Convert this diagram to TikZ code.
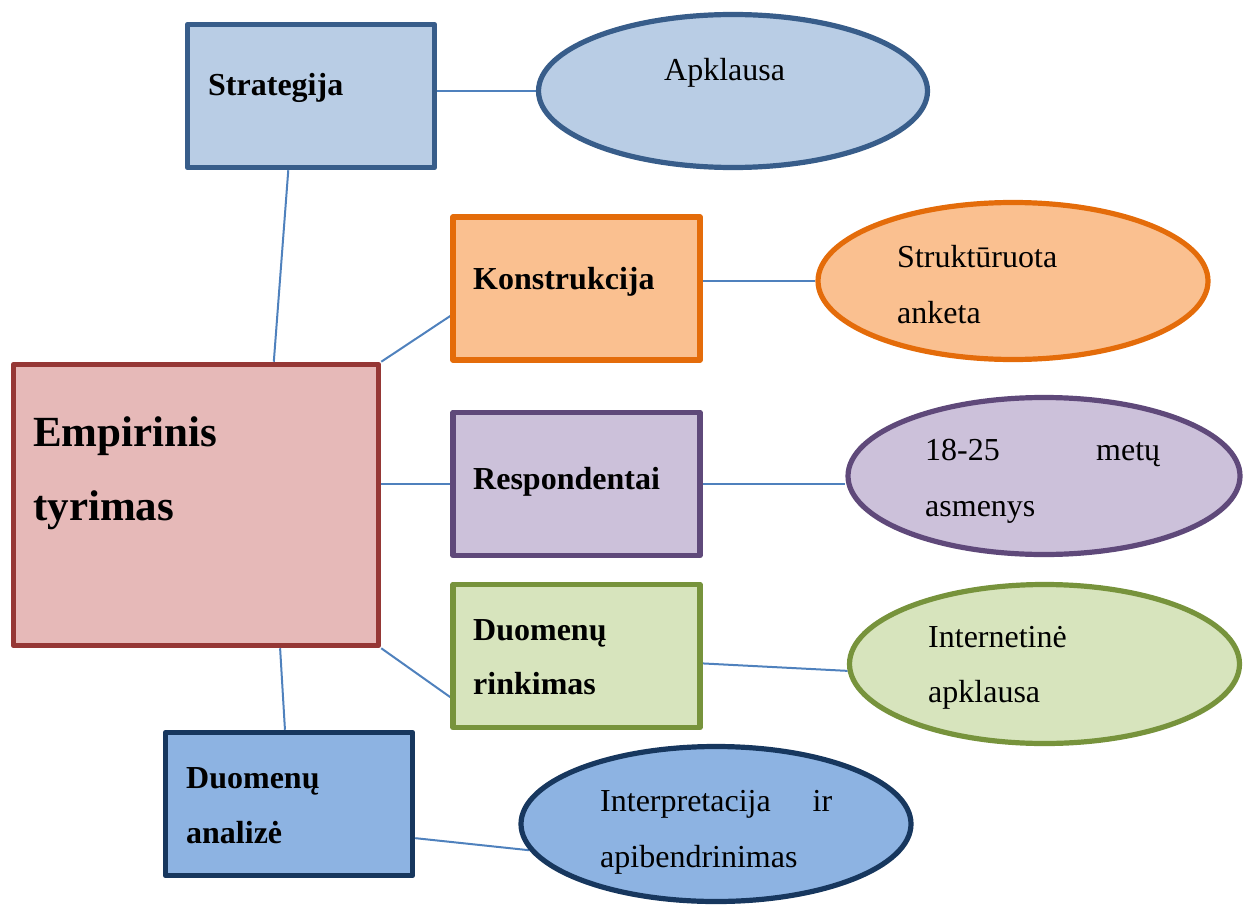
\documentclass[tikz,border=0pt]{standalone}
\usepackage{fontspec}
\setmainfont{Liberation Serif}
\usetikzlibrary{shapes.geometric,calc,backgrounds}
\definecolor{connc}{HTML}{4F81BD}
\definecolor{stratF}{HTML}{B9CDE5}\definecolor{stratD}{HTML}{385D8A}
\definecolor{konF}{HTML}{FAC090}\definecolor{konD}{HTML}{E46C0A}
\definecolor{resF}{HTML}{CCC1DA}\definecolor{resD}{HTML}{5F497A}
\definecolor{rinF}{HTML}{D7E4BD}\definecolor{rinD}{HTML}{77933C}
\definecolor{anaF}{HTML}{8DB3E2}\definecolor{anaD}{HTML}{17375E}
\definecolor{empF}{HTML}{E6B9B8}\definecolor{empD}{HTML}{953735}
\begin{document}
\begin{tikzpicture}[x=1pt,y=-1pt,
  box/.style={rectangle,draw,line width=5.5pt,line join=round,inner sep=0pt,minimum width=247pt,minimum height=143pt},
  oval/.style={ellipse,draw,line width=5.2pt,inner sep=0pt,minimum width=390pt,minimum height=155pt},
  lbl/.style={anchor=base west,inner sep=0pt,font=\fontsize{32}{38}\selectfont},
  blbl/.style={lbl,font=\fontsize{32}{38}\selectfont\bfseries},
  conn/.style={draw=connc,line width=2pt}]
\useasboundingbox (0,0) rectangle (1246,904);
% boxes
\node[box,fill=empF,draw=empD,minimum width=365pt,minimum height=281pt] (emp) at (196,505) {};
\node[box,fill=stratF,draw=stratD] (strat) at (311,96) {};
\node[box,fill=konF,draw=konD] (kon) at (576.5,288.5) {};
\node[box,fill=resF,draw=resD] (res) at (576.5,484) {};
\node[box,fill=rinF,draw=rinD] (rin) at (576.5,656) {};
\node[box,fill=anaF,draw=anaD] (ana) at (289,804) {};
% ellipses
\node[oval,fill=stratF,draw=stratD,minimum width=389pt,minimum height=153pt] (apk) at (733,91) {};
\node[oval,fill=konF,draw=konD,minimum height=157pt] (ank) at (1013,281) {};
\node[oval,fill=resF,draw=resD,minimum width=392pt,minimum height=157pt] (asm) at (1044,476) {};
\node[oval,fill=rinF,draw=rinD,minimum width=390pt,minimum height=159pt] (int) at (1044.5,664) {};
\node[oval,fill=anaF,draw=anaD] (interp) at (716,824) {};
% labels
\node[lbl,anchor=base west,font=\fontsize{43}{50}\selectfont\bfseries] (t1) at (33,446) {Empirinis};
\node[lbl,anchor=base west,font=\fontsize{43}{50}\selectfont\bfseries] (t2) at (33,520) {tyrimas};
\node[blbl] (t3) at (208,96) {Strategija};
\node[blbl] (t4) at (473,289) {Konstrukcija};
\node[blbl] (t5) at (473,489) {Respondentai};
\node[blbl] (t6) at (473,640) {Duomenų};
\node[blbl] (t7) at (473,694) {rinkimas};
\node[blbl] (t8) at (186,788) {Duomenų};
\node[blbl] (t9) at (186,843) {analizė};
\node[lbl] (t10) at (664,81) {Apklausa};
\node[lbl] (t11) at (897,267) {Struktūruota};
\node[lbl] (t12) at (897,323) {anketa};
\node[lbl] (t13) at (925,460) {\hbox to 235pt{18-25\hfill metų}};
\node[lbl] (t14) at (925,516) {asmenys};
\node[lbl] (t15) at (928,647) {Internetinė};
\node[lbl] (t16) at (928,702) {apklausa};
\node[lbl] (t17) at (600,811) {\hbox to 232pt{Interpretacija\hfill ir}};
\node[lbl] (t18) at (600,867) {apibendrinimas};
% connectors
\begin{scope}[on background layer]
\draw[conn] ($(emp.north west)!0.71!(emp.north east)$) -- ($(strat.south west)!0.41!(strat.south east)$);
\draw[conn] (emp.north east) -- ($(kon.south west)!0.315!(kon.north west)$);
\draw[conn] (emp.east |- res.west) -- (res.west);
\draw[conn] (emp.south east) -- ($(rin.south west)!0.223!(rin.north west)$);
\draw[conn] ($(emp.south west)!0.727!(emp.south east)$) -- ($(ana.north west)!0.484!(ana.north east)$);
\draw[conn] (apk.west -| strat.east) -- (apk.west);
\draw[conn] (ank.west -| kon.east) -- (ank.west);
\draw[conn] (res.east) -- (res.east -| asm.west);
\draw[conn] ($(rin.south east)!0.45!(rin.north east)$) -- (int.182);
\draw[conn] ($(ana.south east)!0.27!(ana.north east)$) -- (interp.188);
\end{scope}
\end{tikzpicture}
\end{document}
